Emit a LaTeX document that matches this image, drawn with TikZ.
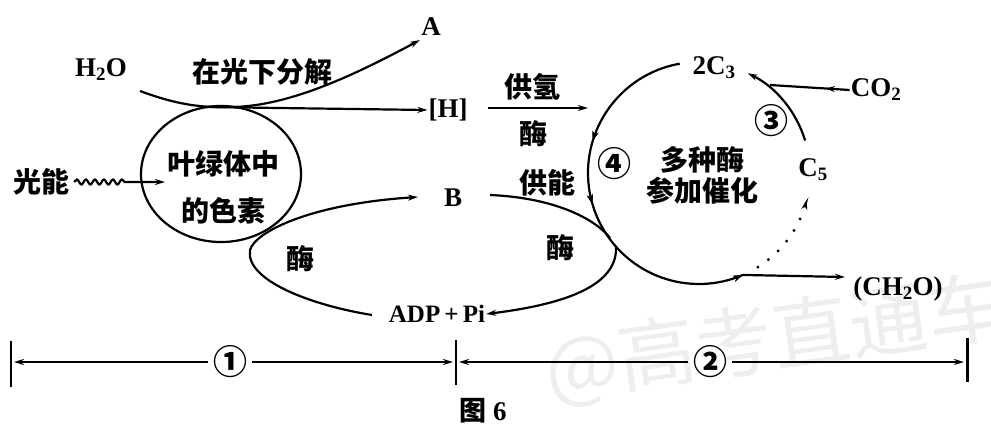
\documentclass[tikz,border=0pt]{standalone}
\usepackage{fontspec}
\setmainfont{Liberation Serif}
\newfontfamily\cjk{Noto Sans CJK SC}
\usetikzlibrary{arrows.meta,decorations.pathmorphing,decorations.markings,shapes.geometric}
\begin{document}
\begin{tikzpicture}[x=1pt,y=-1pt,
  line width=2.2pt,
  tip/.style={-{Stealth[length=10pt,width=6pt]}},
  zh/.style={font=\cjk\bfseries\fontsize{28}{30}\selectfont, inner sep=0pt},
  lat/.style={font=\bfseries\fontsize{27}{29}\selectfont, inner sep=0pt},
  num/.style={font=\cjk\bfseries\fontsize{34}{34}\selectfont, inner sep=0pt, fill=white},
  midmark/.style={postaction={decorate},decoration={markings,mark=at position #1 with {\arrow{Stealth[length=9pt,width=6pt]}}}},
]
\useasboundingbox (0,0) rectangle (991,434);
% watermark
\node[font=\cjk\fontsize{78}{78}\selectfont, text=gray!13, rotate=8, inner sep=0pt] (wm) at (775,340) {@高考直通车};

% ---- light reaction ----
\node[lat] (h2o) at (101,70) {H\textsubscript{2}O};
\node[zh] (split) at (262,72) {在光下分解};
\node[lat] (A) at (431,27) {A};
\node[lat] (H) at (448,110) {[H]};
\node[lat] (B) at (453,198) {B};
\node[lat, font=\bfseries\fontsize{25}{27}\selectfont] (adp) at (437,314) {ADP\,+\,Pi};
\node[zh] (light) at (41,182) {光能};
\node[draw, ellipse, minimum width=160pt, minimum height=136pt, inner sep=0pt] (pig) at (221,174) {};
\node[zh] (pig1) at (223,164) {叶绿体中};
\node[zh] (pig2) at (223,211) {的色素};
\node[zh] (enz1) at (300,259) {酶};

\coordinate (w0) at (140,91);
\coordinate (tp) at (205,107);
\coordinate (aend) at (420,40);
\draw[tip] (w0) .. controls (175,104) and (200,108) .. (230,107)
  .. controls (290,107) and (360,72) .. (aend);
\draw[tip] (tp) -- (H.west);

\coordinate (wv) at (125,182);
\coordinate (wt) at (165,182);
\draw[tip] (light.east) ++(4,0) decorate[decoration={snake,amplitude=2.5pt,segment length=9pt}]{-- (wv)} -- (wt);

\coordinate (l1) at (372,315);
\coordinate (bend) at (418,197);
\draw[tip] (l1) .. controls (310,305) and (245,280) .. (250,250)
  .. controls (255,232) and (310,204) .. (bend);

% ---- dark reaction ----
\coordinate (O) at (699,173);
\node[zh] (gq) at (532,87) {供氢};
\node[zh] (enz2) at (533,134) {酶};
\node[zh] (gn) at (547,183) {供能};
\node[zh] (enz3) at (560,248) {酶};
\node[lat] (c3) at (714,68) {2C\textsubscript{3}};
\node[lat] (co2) at (876,90) {CO\textsubscript{2}};
\node[lat] (c5) at (813,170) {C\textsubscript{5}};
\node[lat] (ch2o) at (898,289) {(CH\textsubscript{2}O)};
\node[num] (n3) at (771,121) {③};
\node[num] (n4) at (614,164) {④};
\node[zh] (cat1) at (702,160) {多种酶};
\node[zh] (cat2) at (702,191) {参加催化};

\coordinate (h1) at (488,108);
\coordinate (h2) at (588,108);
\draw[tip] (h1) -- (h2);

\coordinate (ce) at (845,277);
\draw[tip, midmark=122pt, midmark=186pt, midmark=374pt]
  ([shift={(260:111)}]O) arc[start angle=260, end angle=66.7, radius=111] -- (ce);
\draw[tip] ([shift={(-17:111)}]O) arc[start angle=-17, end angle=-64, radius=111];
\draw[line width=3.2pt, line cap=round, dash pattern=on 0pt off 13pt]
  ([shift={(58:111)}]O) arc[start angle=58, end angle=18, radius=111];
\draw[tip] ([shift={(18:111)}]O) arc[start angle=18, end angle=14, radius=111];
\coordinate (cj) at (770,85);
\draw[midmark=0.3] (co2.west) -- (cj);

\coordinate (g0) at (490,195);
\coordinate (g1) at (610,238);
\draw (g0) .. controls (560,198) and (598,222) .. (g1);
\coordinate (r0) at (616,246);
\draw[tip] (r0) .. controls (618,282) and (575,303) .. (adp.east);

% ---- bottom scale ----
\node[num] (s1) at (230,362) {①};
\node[num] (s2) at (710,362) {②};
\coordinate (t0a) at (11,341); \coordinate (t0b) at (11,387);
\coordinate (t1a) at (456,340); \coordinate (t1b) at (456,385);
\coordinate (t2a) at (967,338); \coordinate (t2b) at (967,382);
\draw (t0a) -- (t0b);
\draw (t1a) -- (t1b);
\draw[line width=3pt] (t2a) -- (t2b);
\coordinate (e0) at (14,362);
\coordinate (e1) at (453,362);
\coordinate (e2) at (459,362);
\coordinate (e3) at (964,362);
\draw[tip] (s1.west) ++(-4,0) -- (e0);
\draw[tip] (s1.east) ++(4,0) -- (e1);
\draw[tip] (s2.west) ++(-4,0) -- (e2);
\draw[tip] (s2.east) ++(4,0) -- (e3);

\node[lat] (fig) at (483,411) {{\cjk 图} 6};
\end{tikzpicture}
\end{document}
